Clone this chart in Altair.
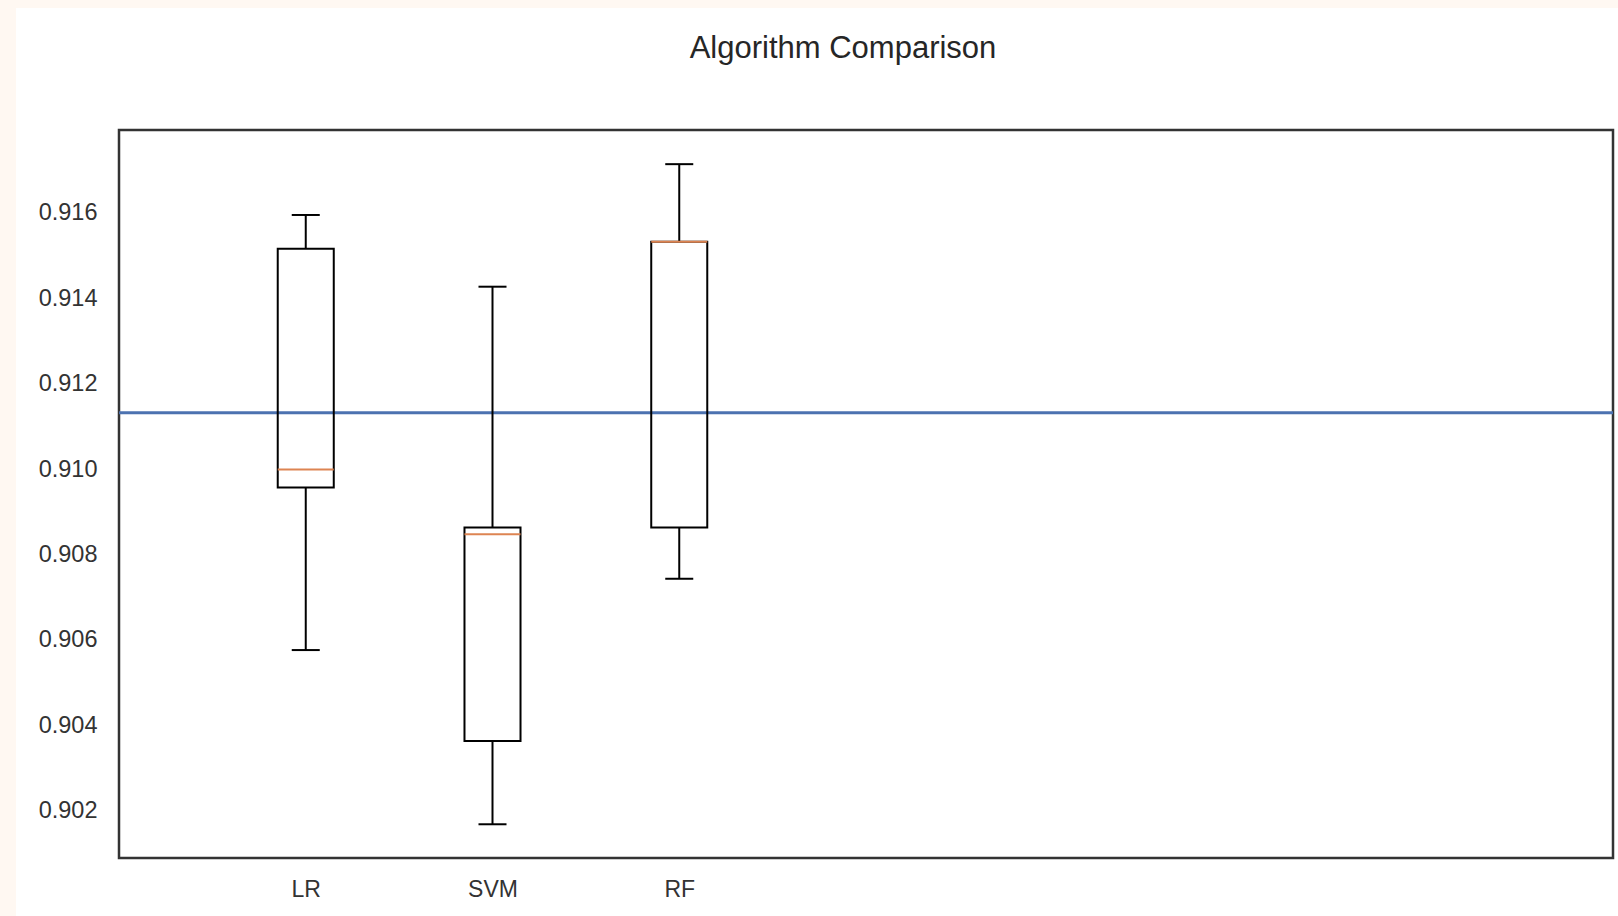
import altair as alt
import pandas as pd

# Data
models = ["LR", "SVM", "RF"]
positions = [1, 2, 3]
whisker_low = [0.90576, 0.90168, 0.90743]
q1 = [0.90957, 0.90363, 0.90863]
median = [0.90999, 0.90847, 0.91532]
q3 = [0.91516, 0.90863, 0.91532]
whisker_high = [0.91595, 0.91427, 0.91714]
mean_line = [0.91132]
y_ticks = [0.902, 0.904, 0.906, 0.908, 0.910, 0.912, 0.914, 0.916]

df = pd.DataFrame({
    "model": models, "pos": positions, "lo": whisker_low, "q1": q1,
    "med": median, "q3": q3, "hi": whisker_high,
})
df_mean = pd.DataFrame({"acc": mean_line})
df_dummy = pd.DataFrame({"a": [0]})

W, H = 1494, 728
FONT = "Liberation Sans"
TXT = "#333333"

label_expr = "[" + ",".join(["''"] + [f"'{m}'" for m in models]) + "][datum.value]"

xscale = alt.Scale(domain=[0, 8], nice=False, zero=False)
yscale = alt.Scale(domain=[0.90089, 0.91794], nice=False, zero=False)

xaxis = alt.Axis(values=positions, labelExpr=label_expr, title=None, grid=False,
                 domain=False, ticks=False, labelFontSize=23, labelFont=FONT,
                 labelColor=TXT, labelPadding=20, zindex=1)
yaxis = alt.Axis(values=y_ticks, format=".3f", title=None, grid=False,
                 domain=False, ticks=False, labelFontSize=23.5, labelFont=FONT,
                 labelColor=TXT, labelPadding=22, zindex=1)

base = alt.Chart(df).transform_calculate(
    x0="datum.pos - 0.15", x1="datum.pos + 0.15",
    c0="datum.pos - 0.075", c1="datum.pos + 0.075",
)

lower_whisker = base.mark_rule(color="black", strokeWidth=2).encode(
    x=alt.X("pos:Q", scale=xscale, axis=xaxis),
    y=alt.Y("lo:Q", scale=yscale, axis=yaxis),
    y2="q1:Q",
)
upper_whisker = base.mark_rule(color="black", strokeWidth=2).encode(
    x=alt.X("pos:Q", scale=xscale), y=alt.Y("q3:Q", scale=yscale), y2="hi:Q",
)
cap_low = base.mark_rule(color="black", strokeWidth=2).encode(
    x=alt.X("c0:Q", scale=xscale), x2="c1:Q", y=alt.Y("lo:Q", scale=yscale),
)
cap_high = base.mark_rule(color="black", strokeWidth=2).encode(
    x=alt.X("c0:Q", scale=xscale), x2="c1:Q", y=alt.Y("hi:Q", scale=yscale),
)
boxes = base.mark_rect(fill=None, fillOpacity=0, stroke="black", strokeWidth=2).encode(
    x=alt.X("x0:Q", scale=xscale), x2="x1:Q",
    y=alt.Y("q1:Q", scale=yscale), y2="q3:Q",
)
medians = base.mark_rule(color="#DD8452", strokeWidth=2).encode(
    x=alt.X("x0:Q", scale=xscale), x2="x1:Q", y=alt.Y("med:Q", scale=yscale),
)
mean_rule = alt.Chart(df_mean).mark_rule(color="#4C72B0", strokeWidth=3).encode(
    y=alt.Y("acc:Q", scale=yscale),
)

PEACH = "#FFF8F2"
top_strip = alt.Chart(df_dummy).mark_rect(color=PEACH).encode(
    x=alt.value(-119), x2=alt.value(1499), y=alt.value(-130), y2=alt.value(-122),
)
left_strip = alt.Chart(df_dummy).mark_rect(color=PEACH).encode(
    x=alt.value(-119), x2=alt.value(-103), y=alt.value(-130), y2=alt.value(786),
)

chart = alt.layer(
    mean_rule, lower_whisker, upper_whisker, cap_low, cap_high, boxes, medians,
    top_strip, left_strip,
).properties(
    width=W, height=H,
    title=alt.TitleParams("Algorithm Comparison", fontSize=31, font=FONT,
                          fontWeight="normal", color="#262626", anchor="middle",
                          baseline="alphabetic", offset=-89, dx=-23),
    autosize=alt.AutoSizeParams(type="none"),
    padding={"left": 119, "top": 130, "right": 5, "bottom": 58},
    background="white",
).configure_view(
    stroke="#333333", strokeWidth=2.5,
)

chart.save("out.html", embed_options={"renderer": "svg", "actions": False})
